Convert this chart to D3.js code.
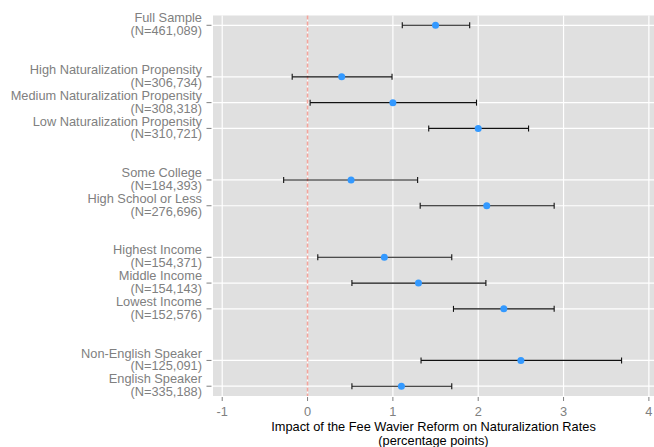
<!DOCTYPE html>
<html>
<head>
<meta charset="utf-8">
<script src="https://cdn.jsdelivr.net/npm/d3@7"></script>
<style>
  html, body { margin: 0; padding: 0; background: #fff; }
  svg { display: block; }
  text { font-family: "Liberation Sans", Arial, Helvetica, sans-serif; }
</style>
</head>
<body>
<svg id="chart" width="654" height="447"></svg>
<script>
// ---- data ----
const labels = ["Full Sample", "High Naturalization Propensity", "Medium Naturalization Propensity",
  "Low Naturalization Propensity", "Some College", "High School or Less", "Highest Income",
  "Middle Income", "Lowest Income", "Non-English Speaker", "English Speaker"];
const sampleN = ["461,089", "306,734", "308,318", "310,721", "184,393", "276,696",
  "154,371", "154,143", "152,576", "125,091", "335,188"];
const groups = [0, 1, 1, 1, 2, 2, 3, 3, 3, 4, 4];
const estimate = [1.50, 0.40, 1.00, 2.00, 0.51, 2.10, 0.90, 1.30, 2.30, 2.50, 1.10];
const lower = [1.11, -0.18, 0.03, 1.42, -0.28, 1.32, 0.12, 0.52, 1.71, 1.33, 0.52];
const upper = [1.90, 0.99, 1.98, 2.59, 1.29, 2.89, 1.69, 2.09, 2.89, 3.68, 1.69];
const xTicks = [-1, 0, 1, 2, 3, 4];
const xTitle = ["Impact of the Fee Wavier Reform on Naturalization Rates", "(percentage points)"];

const rows = labels.map((l, i) => ({
  label: l, n: sampleN[i], est: estimate[i], lo: lower[i], hi: upper[i],
  pos: i + groups[i]
}));

const svg = d3.select("#chart");
const P = { left: 213, right: 654, top: 15.5, bottom: 396 };

const x = d3.scaleLinear().domain([-1.108, 4.06]).range([P.left, P.right]);
const y = d3.scaleLinear().domain([-0.38, 14.38]).range([P.top, P.bottom]);

// panel
svg.append("rect").attr("x", P.left).attr("y", P.top)
  .attr("width", P.right - P.left).attr("height", P.bottom - P.top)
  .attr("fill", "#e0e0e0");

const grid = svg.append("g");
grid.selectAll("line.v").data(xTicks).join("line")
  .attr("x1", d => x(d)).attr("x2", d => x(d))
  .attr("y1", P.top).attr("y2", P.bottom)
  .attr("stroke", "#fff").attr("stroke-width", 1.2);
grid.selectAll("line.h").data(rows).join("line")
  .attr("x1", P.left).attr("x2", P.right)
  .attr("y1", d => y(d.pos)).attr("y2", d => y(d.pos))
  .attr("stroke", "#fff").attr("stroke-width", 1.2);

// zero reference line
svg.append("line")
  .attr("x1", x(0)).attr("x2", x(0)).attr("y1", P.top).attr("y2", P.bottom)
  .attr("stroke", "#f4a49c").attr("stroke-width", 1.6)
  .attr("stroke-dasharray", "4,2");

// error bars
const eb = svg.append("g").attr("stroke", "#111").attr("stroke-width", 1.1);
eb.selectAll("line.bar").data(rows).join("line")
  .attr("x1", d => x(d.lo)).attr("x2", d => x(d.hi))
  .attr("y1", d => y(d.pos)).attr("y2", d => y(d.pos));
eb.selectAll("line.capl").data(rows).join("line")
  .attr("x1", d => x(d.lo)).attr("x2", d => x(d.lo))
  .attr("y1", d => y(d.pos) - 3).attr("y2", d => y(d.pos) + 3);
eb.selectAll("line.capr").data(rows).join("line")
  .attr("x1", d => x(d.hi)).attr("x2", d => x(d.hi))
  .attr("y1", d => y(d.pos) - 3).attr("y2", d => y(d.pos) + 3);

// points
svg.append("g").selectAll("circle").data(rows).join("circle")
  .attr("cx", d => x(d.est)).attr("cy", d => y(d.pos)).attr("r", 3.5)
  .attr("fill", "#3399ff");

// y axis
const yAx = svg.append("g");
yAx.selectAll("line").data(rows).join("line")
  .attr("x1", 206.5).attr("x2", 211.5)
  .attr("y1", d => y(d.pos)).attr("y2", d => y(d.pos))
  .attr("stroke", "#7f7f7f").attr("stroke-width", 1);
const lab = yAx.selectAll("text").data(rows).join("text")
  .attr("text-anchor", "end").attr("font-size", 12.8).attr("fill", "#808080");
lab.append("tspan").attr("x", 202).attr("y", d => y(d.pos) - 2.9).text(d => d.label);
lab.append("tspan").attr("x", 202).attr("y", d => y(d.pos) + 10.0).text(d => "(N=" + d.n + ")");

// x axis
const xAx = svg.append("g");
xAx.selectAll("line").data(xTicks).join("line")
  .attr("x1", d => x(d)).attr("x2", d => x(d))
  .attr("y1", P.bottom + 1).attr("y2", P.bottom + 5)
  .attr("stroke", "#7f7f7f").attr("stroke-width", 1);
xAx.selectAll("text").data(xTicks).join("text")
  .attr("x", d => x(d)).attr("y", 416.2)
  .attr("text-anchor", "middle").attr("font-size", 12.8).attr("fill", "#808080")
  .text(d => d);

svg.append("text").attr("x", (P.left + P.right) / 2).attr("y", 431)
  .attr("text-anchor", "middle").attr("font-size", 12.8).attr("fill", "#000")
  .text(xTitle[0]);
svg.append("text").attr("x", (P.left + P.right) / 2).attr("y", 444.5)
  .attr("text-anchor", "middle").attr("font-size", 12.8).attr("fill", "#000")
  .text(xTitle[1]);
</script>
</body>
</html>
